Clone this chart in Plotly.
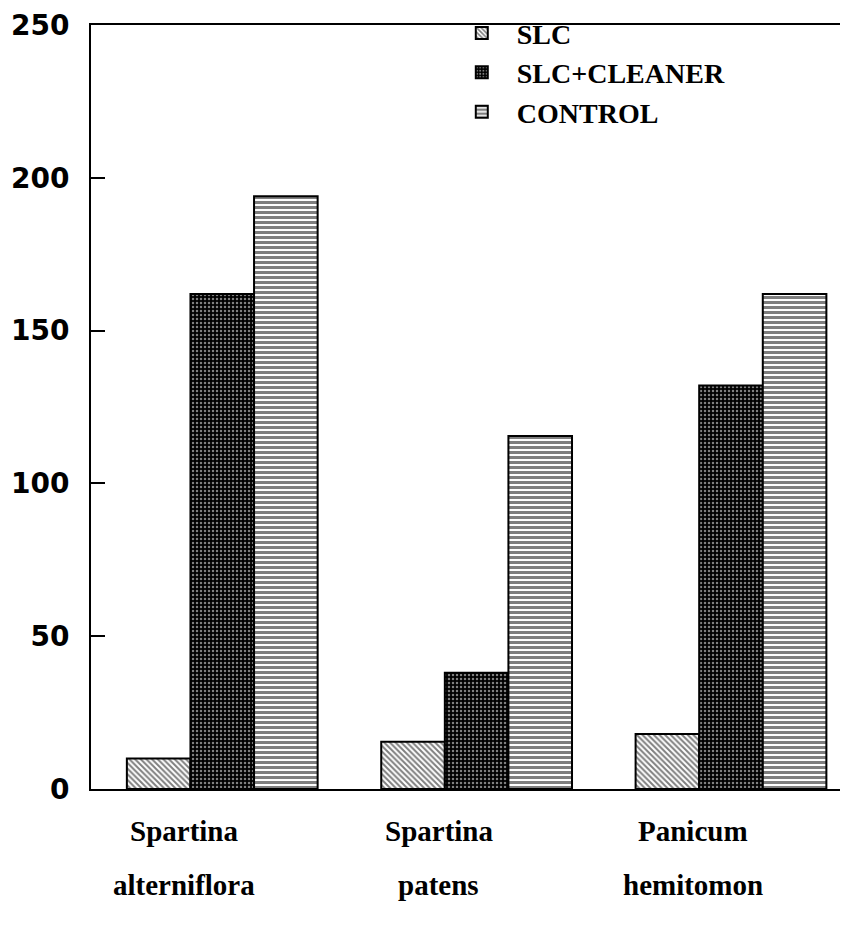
import plotly.graph_objects as go

categories = ["Spartina alterniflora", "Spartina patens", "Panicum hemitomon"]
label_line1 = ["Spartina", "Spartina", "Panicum"]
label_line2 = ["alterniflora", "patens", "hemitomon"]
series_names = ["SLC", "SLC+CLEANER", "CONTROL"]
slc = [10, 15.5, 18]
slc_cleaner = [162, 38, 132]
control = [194, 115.5, 162]
y_ticks = [0, 50, 100, 150, 200, 250]

patterns = [
    dict(shape="\\", fgcolor="black", bgcolor="white", size=4, solidity=0.5),
    dict(shape=".", fgcolor="white", bgcolor="black", size=4, solidity=0.3),
    dict(shape="-", fgcolor="black", bgcolor="white", size=5, solidity=0.6),
]

fig = go.Figure()
for name, vals, pat in zip(series_names, [slc, slc_cleaner, control], patterns):
    fig.add_trace(go.Bar(
        x=categories, y=vals, name=name,
        marker=dict(color="white", pattern=pat, line=dict(color="black", width=2)),
    ))

for cat, l1, l2 in zip(categories, label_line1, label_line2):
    fig.add_annotation(x=cat, xref="x", y=0, yref="paper", text=l1, showarrow=False,
                       yshift=-60, xshift=-38,
                       font=dict(family="Liberation Serif", size=29, color="black", weight="bold"))
    fig.add_annotation(x=cat, xref="x", y=0, yref="paper", text=l2, showarrow=False,
                       yshift=-114, xshift=-38,
                       font=dict(family="Liberation Serif", size=29, color="black", weight="bold"))

fig.update_layout(
    width=840, height=921,
    margin=dict(l=83, r=0, t=17, b=140),
    paper_bgcolor="white", plot_bgcolor="white",
    barmode="group", bargap=0.25, bargroupgap=0,
    showlegend=True,
    legend=dict(x=0.47, y=1.022, xanchor="left", yanchor="top",
                bgcolor="rgba(0,0,0,0)", tracegroupgap=0, itemwidth=60,
                font=dict(family="Liberation Serif", size=28, color="black", weight="bold")),
    xaxis=dict(range=[-0.516, 2.46], showticklabels=False, ticks="", automargin=False,
               showline=True, linecolor="black", linewidth=2, mirror=True,
               showgrid=False, zeroline=False),
    yaxis=dict(range=[0, 250], tickvals=y_ticks, ticks="inside", ticklen=14, tickwidth=2,
               tickcolor="black", showline=True, linecolor="black", linewidth=2,
               showgrid=False, zeroline=False, ticklabelstandoff=14, automargin=False,
               tickfont=dict(family="DejaVu Sans", size=28, color="black", weight="bold")),
)

fig.write_html("out.html")
